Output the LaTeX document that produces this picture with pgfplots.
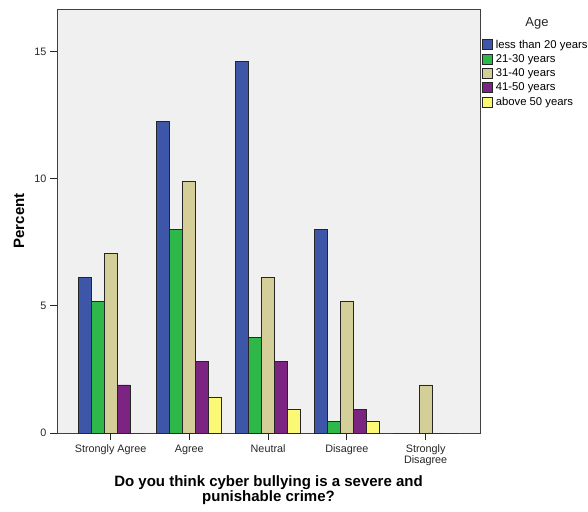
\documentclass[border=0pt]{standalone}
\usepackage{pgfplots}
\pgfplotsset{compat=1.18}
\usepackage{fontspec}
\setmainfont{Liberation Sans}
\definecolor{cBlue}{HTML}{3D56A8}
\definecolor{cGreen}{HTML}{2EB84A}
\definecolor{cTan}{HTML}{D4CE98}
\definecolor{cPurple}{HTML}{7B2481}
\definecolor{cYellow}{HTML}{FBF875}
\definecolor{cBg}{HTML}{F0F0F0}
\begin{document}
\begin{tikzpicture}
\path[use as bounding box] (0,0) rectangle (588pt,511pt);
\begin{axis}[
  at={(57pt,78pt)}, anchor=south west,
  scale only axis, width=423pt, height=424pt,
  clip=false,
  axis background/.style={fill=cBg},
  axis line style={black!75, line width=0.8pt},
  xmin=-0.68, xmax=4.69, ymin=0, ymax=16.68,
  ytick={0,5,10,15},
  xtick={0,1,2,3,4},
  xticklabels={Strongly Agree, Agree, Neutral, Disagree, {Strongly\\Disagree}},
  tick align=outside, major tick length=7pt,
  major tick style={black!85, line width=0.8pt},
  xtick pos=bottom, ytick pos=left,
  ticklabel style={font=\fontsize{10.8}{11}\selectfont, text=black!85},
  xticklabel style={align=center, yshift=-1.5pt},
  /pgf/number format/assume math mode=true,
  ybar=0pt, bar width=13pt,
  every axis plot/.append style={draw=black!85, line width=0.7pt},
  xlabel={Do you think cyber bullying is a severe and\\ punishable crime?},
  xlabel style={at={(axis description cs:0.5,-0.1344)}, anchor=center, align=center,
    font=\fontsize{15}{15.5}\selectfont\bfseries},
  ylabel={Percent},
  ylabel style={at={(axis description cs:-0.0898,0.5)}, anchor=center, rotate=0,
    font=\fontsize{15}{15.5}\selectfont\bfseries},
  legend style={at={(axis description cs:1.0047,0.9316)}, anchor=north west,
    draw=none, fill=none, inner sep=0pt, outer sep=0pt,
    font=\fontsize{11.3}{12}\selectfont, row sep=0pt,
    nodes={inner sep=0.6pt, text height=9.5pt, text depth=3.6pt},
    /tikz/every odd column/.append style={column sep=2.5pt}},
  legend cell align=left,
  legend image code/.code={\draw[#1, line width=0.7pt] (0pt,-4.6pt) rectangle (10pt,5.4pt);},
]
\addplot[fill=cBlue] coordinates {(0,6.13) (1,12.26) (2,14.62) (3,8.02) (4,0)};
\addplot[fill=cGreen] coordinates {(0,5.19) (1,8.02) (2,3.77) (3,0.47) (4,0)};
\addplot[fill=cTan] coordinates {(0,7.08) (1,9.91) (2,6.13) (3,5.19) (4,1.89)};
\addplot[fill=cPurple] coordinates {(0,1.89) (1,2.83) (2,2.83) (3,0.94) (4,0)};
\addplot[fill=cYellow] coordinates {(0,0) (1,1.42) (2,0.94) (3,0.47) (4,0)};
\legend{less than 20 years, 21-30 years, 31-40 years, 41-50 years, above 50 years}
\node[font=\fontsize{13}{14}\selectfont, text=black!85] at (axis description cs:1.1348,0.967) {Age};
\end{axis}
\end{tikzpicture}
\end{document}
